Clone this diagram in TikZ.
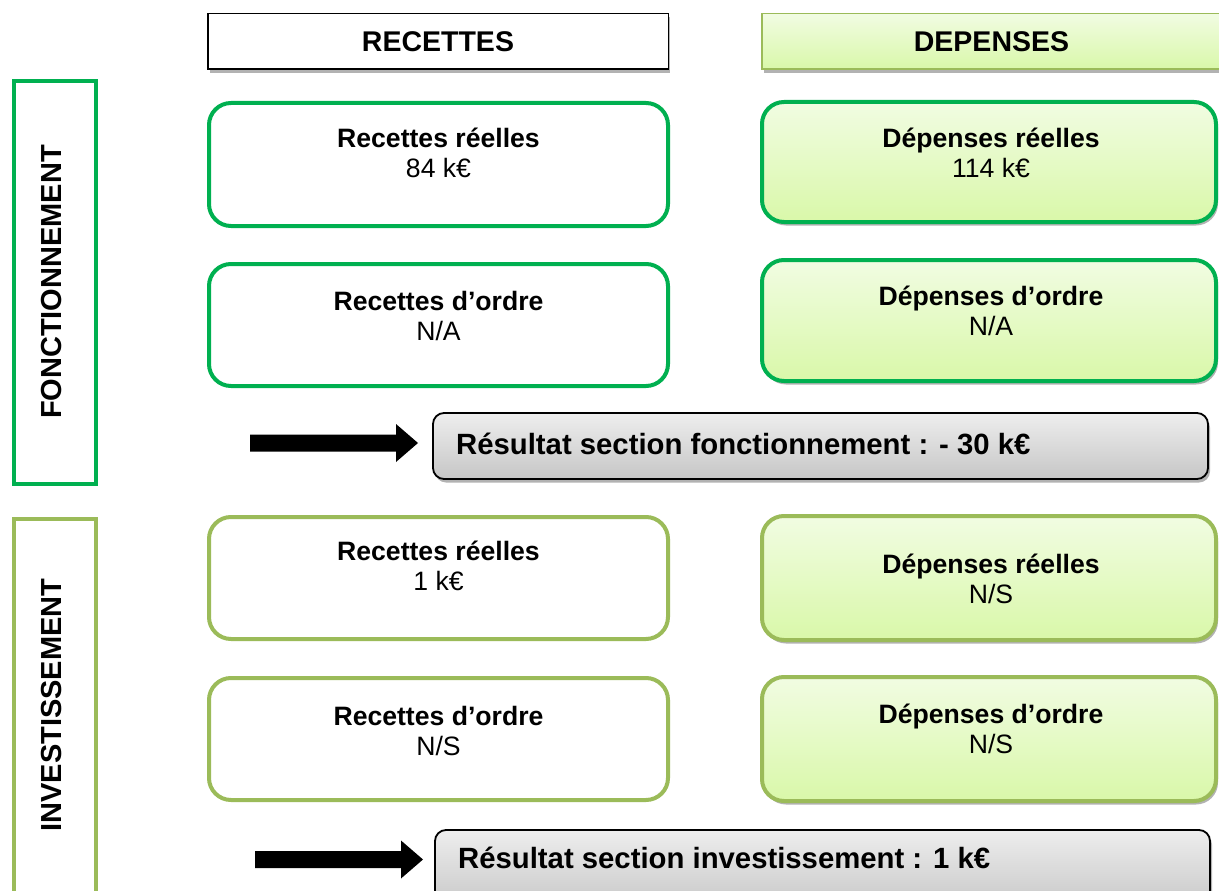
\documentclass[tikz,border=0pt]{standalone}
\usepackage{fontspec}
\setmainfont{Liberation Sans}
\usetikzlibrary{shadows}
\definecolor{gA}{HTML}{00B050}
\definecolor{gB}{HTML}{9BBB59}
\definecolor{lgTop}{HTML}{F1FCE2}
\definecolor{lgBot}{HTML}{D9F8A9}
\definecolor{grTop}{HTML}{EEEEEE}
\definecolor{grBot}{HTML}{C6C6C6}
\tikzset{
 shd/.style={drop shadow={shadow xshift=2pt,shadow yshift=-3.5pt,opacity=.3,fill=black}},
 hdr/.style={draw, line width=1.5pt, inner sep=0pt, shd},
 side/.style={draw, line width=4pt, inner sep=0pt},
 rbox/.style={draw, line width=4pt, rounded corners=22pt, fill=white, inner sep=0pt},
 dbox/.style={rbox, top color=lgTop, bottom color=lgBot, shd},
 hdrtxt/.style={anchor=base, font=\fontsize{28.5}{34}\selectfont\bfseries, inner sep=0pt},
 sidetxt/.style={rotate=90, font=\fontsize{29}{34}\selectfont\bfseries, inner sep=0pt},
 ttl/.style={anchor=base, font=\fontsize{26.6}{30}\selectfont\bfseries, inner sep=0pt},
 val/.style={anchor=base, font=\fontsize{26.6}{30}\selectfont, inner sep=0pt},
 res/.style={draw, line width=1.8pt, rounded corners=11pt, top color=grTop, bottom color=grBot, shd, inner sep=0pt},
 restxt/.style={anchor=base west, font=\fontsize{29.3}{35}\selectfont\bfseries, inner sep=0pt},
 arr/.style={fill=black},
}
\begin{document}
\begin{tikzpicture}[x=1pt,y=-1pt]
\useasboundingbox (0,0) rectangle (1219,891);
\clip (0,0) rectangle (1219,891);
\fill[white] (0,0) rectangle (1219,891);

% headers
\node[hdr, fill=white, minimum width=460.5, minimum height=55.5] (hrec) at (438,41.5) {};
\node[hdrtxt] (hrect) at (438,52) {RECETTES};
\node[hdr, draw=gB, top color=lgTop, bottom color=lgBot, minimum width=472, minimum height=55.5] (hdep) at (998,41.5) {};
\node[hdrtxt] (hdept) at (991.5,52) {DEPENSES};

% side boxes
\node[side, draw=gA, minimum width=82, minimum height=403] (fonct) at (55,282.5) {};
\node[sidetxt] (fonctt) at (52,282) {FONCTIONNEMENT};
\node[side, draw=gB, minimum width=82, minimum height=389] (inv) at (55,713.5) {};
\node[sidetxt] (invt) at (52,705) {INVESTISSEMENT};

% fonctionnement boxes
\node[rbox, draw=gA, minimum width=459, minimum height=123] (rrF) at (438.5,164.5) {};
\node[ttl] (rrFt) at (438.5,147) {Recettes réelles};
\node[val] (rrFv) at (438.5,177) {84 k€};

\node[rbox, draw=gA, minimum width=459, minimum height=122] (roF) at (438.5,325) {};
\node[ttl] (roFt) at (438.5,310) {Recettes d’ordre};
\node[val] (roFv) at (438.5,340) {N/A};

\node[dbox, draw=gA, minimum width=454, minimum height=120] (drF) at (989,162) {};
\node[ttl] (drFt) at (991,147) {Dépenses réelles};
\node[val] (drFv) at (991,177) {114 k€};

\node[dbox, draw=gA, minimum width=454, minimum height=121] (doF) at (989,320.5) {};
\node[ttl] (doFt) at (991,305) {Dépenses d’ordre};
\node[val] (doFv) at (991,335) {N/A};

% result fonctionnement
\fill[arr] (250,434.5) -- (396,434.5) -- (396,424) -- (418,443) -- (396,462) -- (396,451.5) -- (250,451.5) -- cycle;
\node[res, minimum width=775, minimum height=66] (resF) at (820.5,446) {};
\node[restxt] (resFt) at (456,454) {Résultat section fonctionnement : - 30 k€};

% investissement boxes
\node[rbox, draw=gB, minimum width=459, minimum height=122] (rrI) at (438.5,578) {};
\node[ttl] (rrIt) at (438.5,560) {Recettes réelles};
\node[val] (rrIv) at (438.5,590) {1 k€};

\node[rbox, draw=gB, minimum width=459, minimum height=122] (roI) at (438.5,739) {};
\node[ttl] (roIt) at (438.5,725) {Recettes d’ordre};
\node[val] (roIv) at (438.5,755) {N/S};

\node[dbox, draw=gB, minimum width=454, minimum height=124] (drI) at (989,578) {};
\node[ttl] (drIt) at (991,573) {Dépenses réelles};
\node[val] (drIv) at (991,603) {N/S};

\node[dbox, draw=gB, minimum width=454, minimum height=124] (doI) at (989,739) {};
\node[ttl] (doIt) at (991,723) {Dépenses d’ordre};
\node[val] (doIv) at (991,753) {N/S};

% result investissement
\fill[arr] (255,851) -- (401,851) -- (401,840.5) -- (423,859.5) -- (401,878.5) -- (401,868) -- (255,868) -- cycle;
\node[res, minimum width=775, minimum height=80] (resI) at (822.5,870) {};
\node[restxt] (resIt) at (458,868) {Résultat section investissement : 1 k€};
\end{tikzpicture}
\end{document}
